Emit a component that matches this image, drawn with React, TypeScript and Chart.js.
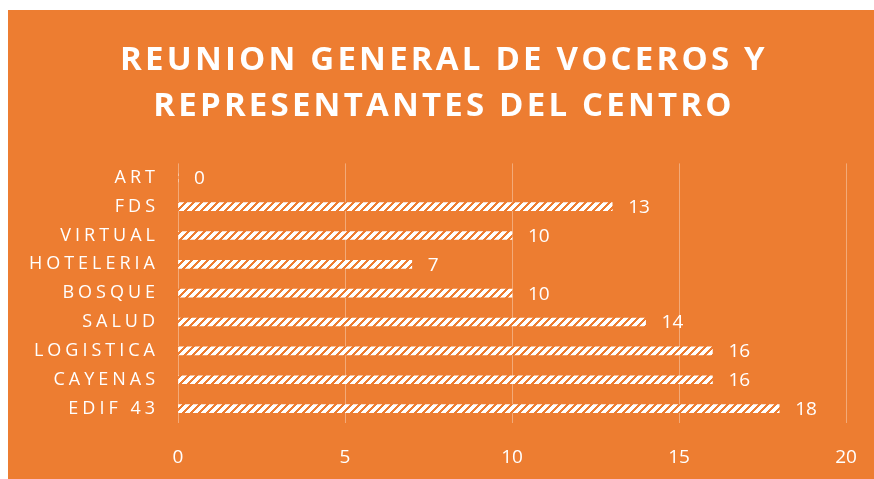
import React, { useEffect, useRef } from 'react';
import { Chart, registerables } from 'chart.js';

Chart.register(...registerables);

const categories = ['ART', 'FDS', 'VIRTUAL', 'HOTELERIA', 'BOSQUE', 'SALUD', 'LOGISTICA', 'CAYENAS', 'EDIF 43'];
const values = [0, 13, 10, 7, 10, 14, 16, 16, 18];
const titleLines = ['REUNION GENERAL DE VOCEROS Y', 'REPRESENTANTES DEL CENTRO'];
const xTicks = [0, 5, 10, 15, 20];

const ORANGE = '#ED7D31';
const FONT = "'Open Sans', 'Noto Sans', sans-serif";

function makePattern(): CanvasPattern | string {
  const c = document.createElement('canvas');
  c.width = 8;
  c.height = 8;
  const g = c.getContext('2d');
  if (!g) return '#fff';
  g.fillStyle = '#ffffff';
  g.fillRect(0, 0, 8, 8);
  g.fillStyle = ORANGE;
  for (let y = 0; y < 8; y++) {
    for (let x = 0; x < 8; x++) {
      const d = (x + y) % 8;
      if (d === 0 || d === 1 || d === 2) g.fillRect(x, y, 1, 1);
    }
  }
  const p = g.createPattern(c, 'repeat');
  return p || '#fff';
}

const spacingPlugin = {
  id: 'letterSpacingPatch',
  beforeDraw(chart: any) {
    const ctx = chart.ctx as any;
    if (ctx.__patched) return;
    const orig = ctx.fillText.bind(ctx);
    ctx.fillText = (text: any, x: number, y: number, mw?: number) => {
      const s = String(text);
      let ls = '0px';
      if (titleLines.includes(s)) ls = '3.2px';
      else if (categories.includes(s)) ls = '4px';
      ctx.letterSpacing = ls;
      if (mw === undefined) orig(s, x, y);
      else orig(s, x, y, mw);
      ctx.letterSpacing = '0px';
    };
    ctx.__patched = true;
  },
};

const dataLabelPlugin = {
  id: 'dataLabels',
  afterDatasetsDraw(chart: any) {
    const ctx = chart.ctx;
    const meta = chart.getDatasetMeta(0);
    ctx.save();
    ctx.fillStyle = '#ffffff';
    ctx.font = `19px ${FONT}`;
    ctx.textAlign = 'left';
    ctx.textBaseline = 'middle';
    meta.data.forEach((el: any, i: number) => {
      ctx.fillText(String(values[i]), el.x + 16, el.y + 1);
    });
    ctx.restore();
  },
};

export default function App() {
  const ref = useRef<HTMLCanvasElement | null>(null);

  useEffect(() => {
    if (!ref.current) return;
    const chart = new Chart(ref.current, {
      type: 'bar',
      data: {
        labels: categories,
        datasets: [
          {
            data: values,
            backgroundColor: makePattern() as any,
            borderWidth: 0,
            barThickness: 8,
          },
        ],
      },
      options: {
        indexAxis: 'y',
        animation: false,
        responsive: true,
        maintainAspectRatio: false,
        layout: { padding: { left: 6, right: 0, top: 0, bottom: 10 } },
        plugins: {
          legend: { display: false },
          tooltip: { enabled: false },
          title: {
            display: true,
            text: titleLines,
            color: '#ffffff',
            font: { family: FONT, size: 33, weight: 'bold', lineHeight: 1.4 },
            padding: { top: 27, bottom: 34 },
          },
        },
        scales: {
          x: {
            min: 0,
            max: 20,
            afterBuildTicks: (scale: any) => {
              scale.ticks = xTicks.map((v) => ({ value: v }));
            },
            ticks: { color: '#ffffff', font: { family: FONT, size: 19 }, padding: 23, maxRotation: 0 },
            grid: { color: 'rgba(255,255,255,0.35)', drawTicks: false, lineWidth: 1 },
            border: { display: false },
            afterFit: (scale: any) => {
              scale.height = 46;
              scale.paddingRight = 28;
              scale.paddingLeft = 0;
            },
          },
          y: {
            ticks: { color: '#ffffff', font: { family: FONT, size: 18 }, padding: 19 },
            grid: { display: false, drawTicks: false },
            border: { display: false },
            afterFit: (scale: any) => {
              scale.width = 164;
            },
          },
        },
      },
      plugins: [spacingPlugin, dataLabelPlugin],
    });
    return () => chart.destroy();
  }, []);

  return (
    <div
      style={{
        position: 'fixed',
        left: 8,
        top: 10,
        width: 866,
        height: 469,
        background: ORANGE,
      }}
    >
      <canvas ref={ref} style={{ display: 'block' }} />
    </div>
  );
}
